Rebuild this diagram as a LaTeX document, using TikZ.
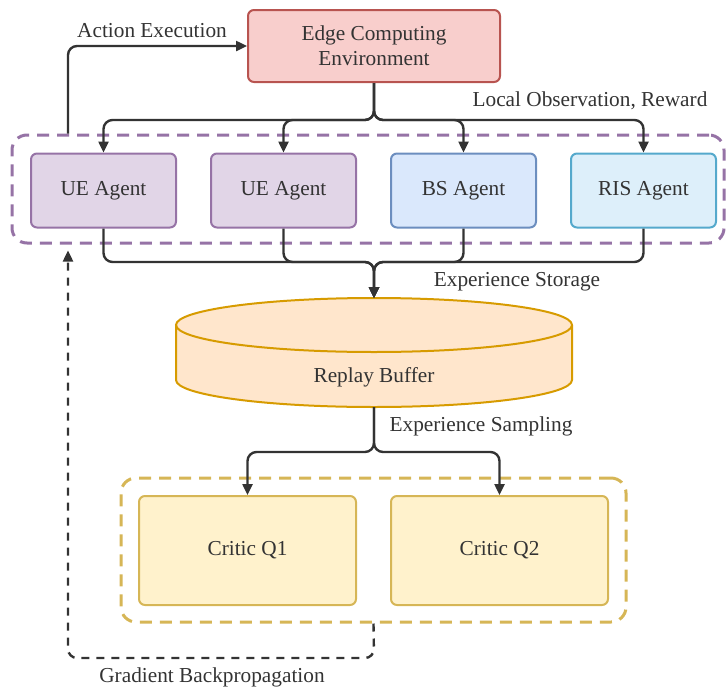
\documentclass[tikz,border=0pt]{standalone}
\usepackage{fontspec}
\setmainfont{Liberation Serif}
\usetikzlibrary{arrows.meta}
\definecolor{envfill}{HTML}{F8CECC}
\definecolor{envline}{HTML}{B85450}
\definecolor{uefill}{HTML}{E1D5E7}
\definecolor{ueline}{HTML}{9673A6}
\definecolor{bsfill}{HTML}{DAE8FC}
\definecolor{bsline}{HTML}{6C8EBF}
\definecolor{risfill}{HTML}{DDEFFA}
\definecolor{risline}{HTML}{55A9CC}
\definecolor{buffill}{HTML}{FFE6CC}
\definecolor{bufline}{HTML}{D79B00}
\definecolor{crfill}{HTML}{FFF2CC}
\definecolor{crline}{HTML}{D6B656}
\definecolor{ink}{HTML}{333333}
\tikzset{
  txt/.style={font=\fontsize{21.3}{25}\selectfont, text=ink, inner sep=0pt},
  box/.style={txt, rectangle, rounded corners=6pt, line width=2pt, align=center},
  envbox/.style={box, fill=envfill, draw=envline, minimum width=252pt, minimum height=72pt},
  agentbox/.style={box, minimum width=145pt, minimum height=74pt},
  critbox/.style={box, fill=crfill, draw=crline, minimum width=217pt, minimum height=109pt},
  groupbox/.style={rectangle, rounded corners=15pt, line width=3pt, dash pattern=on 12pt off 8pt},
  conn/.style={draw=ink, line width=2.4pt, rounded corners=9pt, -{Triangle[length=11pt,width=10pt]}},
  gradconn/.style={conn, dash pattern=on 8pt off 7pt},
}
\begin{document}
\begin{tikzpicture}[x=1pt,y=1pt]
\useasboundingbox (0,0) rectangle (726,-691);

% environment
\node[envbox] (env) at (374,-46) {Edge Computing\\Environment};

% agents and their group
\node[groupbox, draw=ueline, minimum width=712pt, minimum height=108pt] (agents) at (368,-189) {};
\node[agentbox, fill=uefill, draw=ueline] (ue1) at (103.5,-190.5) {UE Agent};
\node[agentbox, fill=uefill, draw=ueline] (ue2) at (283.5,-190.5) {UE Agent};
\node[agentbox, fill=bsfill, draw=bsline] (bs) at (463.5,-190.5) {BS Agent};
\node[agentbox, fill=risfill, draw=risline] (ris) at (643.5,-190.5) {RIS Agent};

% replay buffer cylinder
\fill[buffill] (176,-325) -- (176,-380) arc[start angle=180, end angle=360, x radius=198, y radius=27] -- (572,-325) -- cycle;
\fill[buffill] (374,-325) ellipse[x radius=198, y radius=27];
\draw[bufline, line width=2pt] (176,-325) -- (176,-380) arc[start angle=180, end angle=360, x radius=198, y radius=27] -- (572,-325);
\draw[bufline, line width=2pt] (374,-325) ellipse[x radius=198, y radius=27];
\coordinate (buftop) at (374,-298);
\coordinate (bufbot) at (374,-407);
\node[txt] (buf) at (374,-377) {Replay Buffer};

% critics and their group
\node[groupbox, draw=crline, minimum width=505pt, minimum height=144pt] (critics) at (373.5,-550) {};
\node[critbox] (q1) at (247.5,-550.5) {Critic Q1};
\node[critbox] (q2) at (499.5,-550.5) {Critic Q2};

% bus levels and the return line
\coordinate (topbus) at (374,-120);
\coordinate (storebus) at (374,-262);
\coordinate (samplebus) at (374,-452);
\coordinate (leftx) at (68,-46);
\coordinate (gradlow) at (374,-658);

% observation and reward to all agents
\foreach \a in {ue1,ue2,bs,ris}
  \draw[conn] (env.south) |- (\a.north |- topbus) -- (\a.north);

% action execution
\draw[conn] (agents.north -| leftx) |- (env.west);

% experience storage
\foreach \a in {ue1,ue2,bs,ris}
  \draw[conn] (\a.south) |- (storebus) -- (buftop);

% experience sampling
\foreach \c in {q1,q2}
  \draw[conn] (bufbot) |- (\c.north |- samplebus) -- (\c.north);

% gradient backpropagation
\draw[gradconn, shorten >=6pt] (critics.south) -- (gradlow) -| (agents.south -| leftx);

% labels
\node[txt] (lae) at (152,-31) {Action Execution};
\node[txt] (lobs) at (590,-101) {Local Observation, Reward};
\node[txt] (lsto) at (517,-282) {Experience Storage};
\node[txt] (lsam) at (481,-426) {Experience Sampling};
\node[txt] (lgrad) at (212,-677) {Gradient Backpropagation};
\end{tikzpicture}
\end{document}
